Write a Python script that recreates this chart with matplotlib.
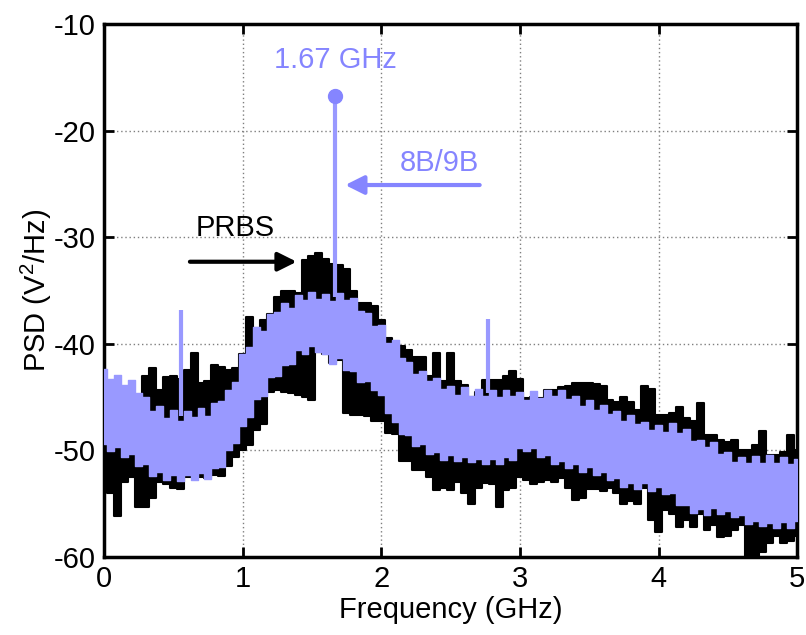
import numpy as np
import matplotlib
matplotlib.use("Agg")
import matplotlib.pyplot as plt

plt.rcParams['font.family'] = ['Liberation Sans', 'DejaVu Sans']
plt.rcParams['mathtext.default'] = 'regular'
plt.rcParams['axes.unicode_minus'] = False

# Frequency grid of the envelope readings (GHz)
freq = np.round(np.arange(0, 5.0001, 0.05), 2)

# PRBS spectrum: upper / lower envelope of the PSD trace (dB V^2/Hz)
prbs_upper = [
    -48.5, -47.8, -48.6, -47.9, -48.8, -49.0, -43.0, -42.3, -44.3, -43.1,
    -43.0, -43.3, -42.5, -40.9, -43.7, -43.5, -42.0, -42.2, -42.5, -42.3,
    -41.0, -37.5, -38.5, -37.8, -37.2, -35.6, -35.0, -35.0, -35.2, -32.1,
    -31.8, -31.5, -32.0, -32.5, -32.6, -33.0, -35.0, -36.2, -36.2, -36.5,
    -37.8, -39.5, -40.0, -40.2, -40.6, -41.2, -41.2, -43.0, -40.9, -43.5,
    -40.9, -43.5, -43.9, -45.0, -44.5, -43.4, -43.4, -43.4, -43.0, -42.6,
    -43.3, -45.1, -45.0, -45.1, -44.3, -44.3, -44.1, -44.0, -43.7, -43.7,
    -43.7, -43.8, -44.0, -45.3, -45.5, -45.0, -45.5, -46.2, -44.0, -44.2,
    -46.7, -46.7, -46.5, -45.9, -47.0, -47.2, -45.6, -48.6, -48.6, -49.0,
    -49.2, -49.0, -50.0, -50.0, -49.5, -48.2, -50.4, -50.4, -50.2, -48.6,
    -50.0,
]
prbs_lower = [
    -53.5, -54.0, -56.2, -53.0, -52.5, -55.3, -55.3, -54.5, -53.0, -53.2,
    -53.5, -53.6, -52.5, -52.3, -52.5, -52.6, -52.3, -52.4, -51.5, -50.6,
    -50.0, -49.5, -48.1, -47.5, -44.5, -44.3, -44.5, -44.6, -44.8, -45.0,
    -45.3, -40.8, -41.0, -41.8, -41.5, -46.5, -46.7, -46.7, -46.8, -47.2,
    -47.2, -48.4, -48.5, -51.0, -51.0, -51.8, -51.8, -52.5, -53.7, -53.5,
    -53.7, -53.0, -54.0, -55.0, -53.5, -53.1, -53.2, -55.3, -53.7, -53.5,
    -52.5, -52.8, -53.2, -53.0, -52.8, -53.0, -52.6, -53.5, -54.7, -54.5,
    -53.6, -53.6, -53.8, -53.5, -54.0, -55.0, -54.8, -55.0, -53.5, -56.5,
    -57.7, -55.6, -56.0, -57.2, -56.5, -57.2, -56.0, -57.5, -57.0, -58.1,
    -58.0, -57.5, -57.0, -60.0, -60.0, -59.5, -58.7, -58.0, -58.7, -58.5,
    -58.0,
]

# 8B/9B spectrum: upper / lower envelope of the PSD trace (dB V^2/Hz)
code_upper = [
    -42.4, -43.3, -42.9, -43.9, -43.4, -44.6, -45.0, -46.3, -45.8, -47.0,
    -46.2, -47.2, -46.3, -46.9, -46.0, -46.8, -45.6, -45.4, -44.3, -43.6,
    -41.0, -40.3, -38.4, -38.8, -37.2, -37.0, -36.2, -36.6, -35.4, -35.9,
    -35.1, -35.8, -35.3, -36.0, -35.2, -35.9, -35.7, -36.9, -37.1, -38.3,
    -38.2, -39.9, -39.6, -41.3, -41.7, -42.8, -42.6, -43.5, -43.2, -44.2,
    -44.0, -44.8, -44.1, -44.9, -44.2, -44.9, -44.3, -45.0, -44.3, -44.9,
    -44.5, -45.3, -44.4, -45.1, -44.3, -44.9, -44.3, -45.2, -44.9, -45.8,
    -45.3, -46.2, -45.7, -46.6, -46.3, -47.2, -46.7, -47.5, -47.3, -48.1,
    -47.6, -48.3, -47.4, -48.4, -48.0, -49.1, -49.0, -49.7, -49.2, -50.3,
    -50.2, -51.1, -50.6, -51.2, -50.5, -51.2, -50.4, -51.2, -50.6, -51.3,
    -50.8,
]
code_lower = [
    -49.4, -50.1, -49.7, -50.6, -50.3, -51.5, -51.3, -52.4, -52.0, -52.8,
    -52.3, -52.9, -52.3, -52.8, -52.1, -52.7, -51.7, -51.6, -50.0, -49.3,
    -47.7, -46.9, -45.2, -44.9, -43.1, -43.0, -42.0, -41.9, -40.6, -41.0,
    -40.2, -40.8, -41.0, -41.9, -41.3, -42.5, -42.6, -43.6, -43.5, -44.3,
    -44.8, -46.5, -47.3, -48.5, -48.6, -49.6, -49.4, -50.3, -50.2, -50.9,
    -50.4, -51.0, -50.6, -51.1, -50.8, -51.3, -50.8, -51.3, -50.6, -50.9,
    -49.8, -50.1, -49.8, -50.6, -50.4, -51.3, -51.0, -51.7, -51.3, -52.0,
    -51.6, -52.3, -52.0, -52.8, -52.6, -53.4, -53.1, -53.6, -53.1, -53.8,
    -53.4, -54.1, -54.0, -55.1, -55.1, -55.9, -55.5, -56.1, -55.4, -56.0,
    -55.7, -56.3, -56.1, -56.9, -56.6, -57.1, -56.8, -57.3, -56.7, -57.3,
    -56.6,
]

# Discrete spectral lines of the 8B/9B code (GHz, peak dB V^2/Hz)
line_freqs = [0.556, 1.67, 2.77]
line_bases = [-46.8, -35.6, -44.6]
line_peaks = [-36.8, -16.7, -37.7]

x_ticks = [0, 1, 2, 3, 4, 5]
y_ticks = [-60, -50, -40, -30, -20, -10]

BLACK = '#000000'
BLUE = '#9999ff'
BLUE_TXT = '#8585ff'

fig = plt.figure(figsize=(8.06, 6.35), dpi=100)
ax = fig.add_axes([0.129, 0.123, 0.860, 0.839])

ax.fill_between(freq, prbs_lower, prbs_upper, step='mid',
                facecolor=BLACK, edgecolor=BLACK, linewidth=1.5, zorder=2)
ax.fill_between(freq, code_lower, code_upper, step='mid',
                facecolor=BLUE, edgecolor=BLUE, linewidth=1.0, zorder=3)
ax.vlines(line_freqs, line_bases, line_peaks, colors=BLUE, linewidth=3, zorder=4)
ax.plot([line_freqs[1]], [line_peaks[1]], 'o', color=BLUE_TXT,
        markersize=10, zorder=5)

fs = 21
ax.text(line_freqs[1], -13.4, f'{line_freqs[1]:.2f} GHz', color=BLUE_TXT,
        fontsize=fs, ha='center', va='center', zorder=6)
ax.text(2.42, -23.0, '8B/9B', color=BLUE_TXT, fontsize=fs,
        ha='center', va='center', zorder=6)
ax.text(0.945, -29.1, 'PRBS', color=BLACK, fontsize=fs,
        ha='center', va='center', zorder=6)

ax.annotate('', xy=(1.74, -25.1), xytext=(2.71, -25.1),
            arrowprops=dict(arrowstyle='-|>', color=BLUE_TXT, lw=3,
                            mutation_scale=28, shrinkA=0, shrinkB=0), zorder=6)
ax.annotate('', xy=(1.39, -32.3), xytext=(0.62, -32.3),
            arrowprops=dict(arrowstyle='-|>', color=BLACK, lw=3,
                            mutation_scale=28, shrinkA=0, shrinkB=0), zorder=6)

ax.set_xlim(0, 5)
ax.set_ylim(-60, -10)
ax.set_xticks(x_ticks)
ax.set_yticks(y_ticks)
ax.grid(True, color='#7f7f7f', linestyle=(0, (1, 2)), linewidth=1.0)
ax.set_axisbelow(True)
ax.tick_params(direction='in', length=7, width=2, labelsize=fs,
               top=True, right=True, pad=6)
for sp in ax.spines.values():
    sp.set_linewidth(2.5)

ax.set_xlabel('Frequency (GHz)', fontsize=fs, labelpad=2)
ax.set_ylabel('PSD (V$^2$/Hz)', fontsize=fs, labelpad=0)

fig.savefig('out.png', dpi=100)
